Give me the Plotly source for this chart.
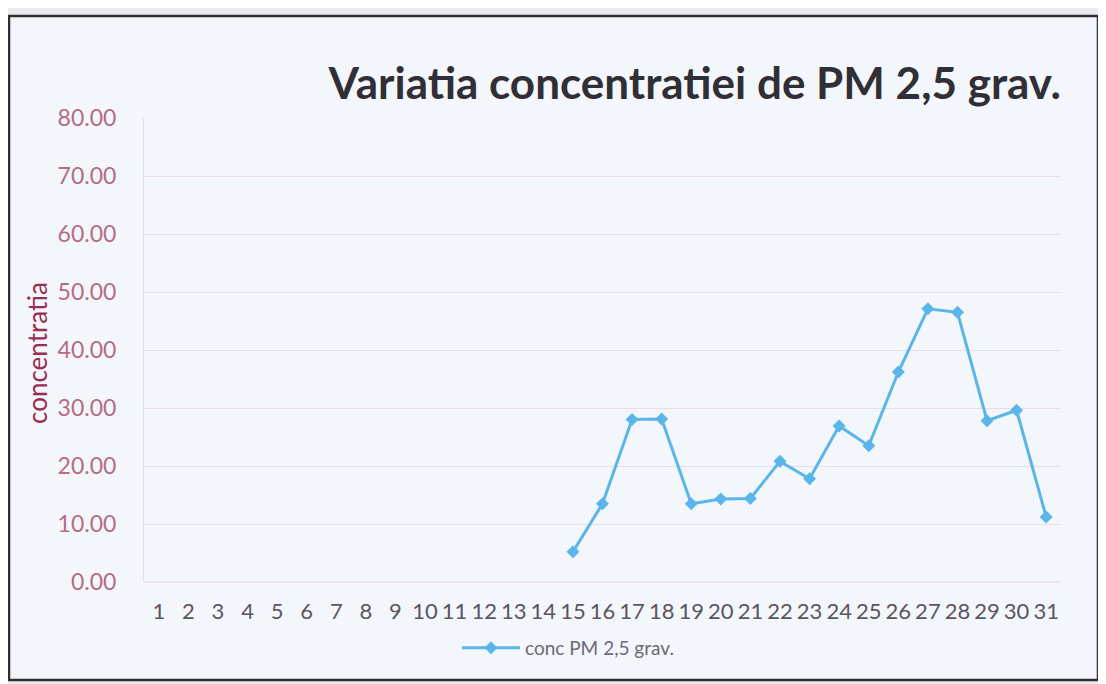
import plotly.graph_objects as go

# ---- data ----
days = list(range(1, 32))
day_labels = [str(d) for d in days]
pm_days = list(range(15, 32))
pm_values = [5.2, 13.5, 28.0, 28.1, 13.5, 14.3, 14.4, 20.8, 17.8, 26.9,
             23.5, 36.2, 47.1, 46.5, 27.8, 29.6, 11.2]
y_ticks = [0, 10, 20, 30, 40, 50, 60, 70, 80]
y_tick_labels = [f"{v:.2f}" for v in y_ticks]

title_text = "Variatia concentratiei de PM 2,5 grav."
series_name = "conc PM 2,5 grav."
y_title = "concentratia"

# page body has an 8px margin -> work in figure pixel coordinates
OFF = 8
W, H = 1106 - OFF, 684 - OFF
L, R, T, B = 144 - OFF, 1061 - OFF, 118 - OFF, 582 - OFF

bg = "#f3f6fb"
outside = "#e9ebef"
line_col = "#5ab6ea"
grid_col = "#e8dce9"

fig = go.Figure()
fig.add_trace(go.Scatter(
    x=pm_days, y=pm_values, mode="lines+markers", name=series_name,
    line=dict(color=line_col, width=3),
    marker=dict(symbol="diamond", size=10, color=line_col),
))

def px_to_paper_x(px):
    return (px - L) / (R - L)

def px_to_paper_y(py):
    return (B - py) / (B - T)

fig.update_layout(
    width=W, height=H,
    margin=dict(l=L, r=W - R, t=T, b=H - B),
    paper_bgcolor=outside, plot_bgcolor=bg,
    font=dict(family="Lato, Open Sans, sans-serif"),
    title=dict(text=title_text, x=(1061 - OFF) / W, xanchor="right", xref="container",
               y=1 - (84 - OFF) / H, yanchor="middle", yref="container",
               font=dict(size=44, color="#2f2f35", family="Lato, Open Sans, sans-serif", weight="bold")),
    showlegend=True,
    legend=dict(orientation="h", x=px_to_paper_x(568 - OFF), xanchor="center",
                y=px_to_paper_y(648 - OFF), yanchor="middle", itemwidth=58,
                font=dict(size=19, color="#6a6a78"), bgcolor="rgba(0,0,0,0)"),
    xaxis=dict(range=[0.5, 31.5], tickmode="array", tickvals=days, ticktext=day_labels,
               showgrid=False, zeroline=False, showline=False, ticks="",
               tickfont=dict(size=22, color="#5a5560"), ticklabelstandoff=14),
    yaxis=dict(range=[0, 80], tickmode="array", tickvals=y_ticks, ticktext=y_tick_labels,
               showgrid=True, gridcolor=grid_col, gridwidth=1.3, zeroline=False,
               showline=True, linecolor=grid_col, ticks="",
               tickfont=dict(size=23, color="#b56c88"), ticklabelstandoff=22),
)

# y axis title as annotation
fig.add_annotation(text=y_title, textangle=-90, showarrow=False,
                   xref="paper", yref="paper", x=px_to_paper_x(37 - OFF), y=px_to_paper_y(353 - OFF),
                   xanchor="center", yanchor="middle",
                   font=dict(size=26, color="#9a2d55"))

# bottom axis line
fig.add_shape(type="line", xref="paper", yref="paper", x0=0, x1=1, y0=0, y1=0,
              line=dict(color=grid_col, width=1.5))
# outer chart frame (dark border of the photographed chart)
fig.add_shape(type="rect", xref="paper", yref="paper",
              x0=px_to_paper_x(9 - OFF), x1=px_to_paper_x(1098 - OFF),
              y0=px_to_paper_y(680 - OFF), y1=px_to_paper_y(16 - OFF),
              line=dict(color="#303030", width=2.5), fillcolor=bg, layer="below")

fig.write_html("out.html")
